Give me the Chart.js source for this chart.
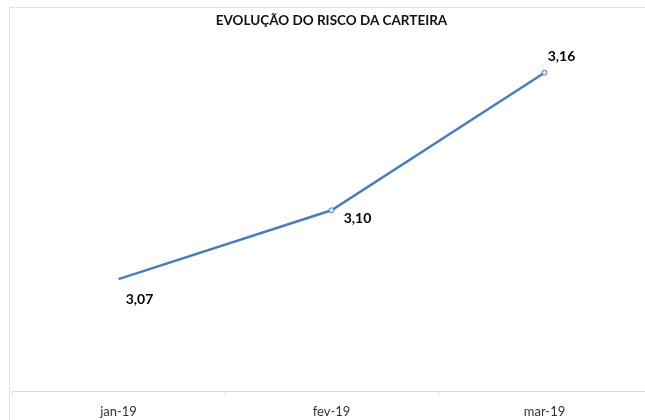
<!DOCTYPE html>
<html>
<head>
<meta charset="utf-8">
<script src="https://cdn.jsdelivr.net/npm/chart.js@4"></script>
<style>
    html, body { margin: 0; padding: 0; background: #fff; overflow: hidden; }
    #frame {
        position: absolute; left: 9px; top: 7px;
        width: 700px; height: 500px;
        border: 1px solid #e3e3e3;
    }
    #wrap { position: absolute; left: 0; top: 0; width: 665px; height: 428px; }
</style>
</head>
<body>
<div id="frame"></div>
<div id="wrap"><canvas id="riskChart"></canvas></div>
<script>
// =========================
// DATA
// =========================
const months = ["jan-19", "fev-19", "mar-19"];
const riskValues = [3.07, 3.10, 3.16];
const chartTitle = "EVOLUÇÃO DO RISCO DA CARTEIRA";

const FONT = "Lato, 'Open Sans', sans-serif";

// =========================
// DATA LABELS (drawn next to each point)
// =========================
const labelOffsets = [[21, 20], [26, 8], [17, -16]];

const pointLabels = {
    id: "pointLabels",
    afterDatasetsDraw(chart) {
        const ctx = chart.ctx;
        const meta = chart.getDatasetMeta(0);
        ctx.save();
        ctx.font = "bold 14px " + FONT;
        ctx.fillStyle = "#000";
        ctx.textAlign = "center";
        ctx.textBaseline = "middle";
        meta.data.forEach((pt, i) => {
            const txt = riskValues[i].toFixed(2).replace(".", ",");
            ctx.fillText(txt, pt.x + labelOffsets[i][0], pt.y + labelOffsets[i][1]);
        });
        ctx.restore();
    }
};

// =========================
// LINE CHART
// =========================
new Chart(document.getElementById("riskChart"), {
    type: "line",
    data: {
        labels: months,
        datasets: [{
            data: riskValues,
            borderColor: "#4a7ebb",
            borderWidth: 2.5,
            pointRadius: [0, 2.5, 2.5],
            pointBorderWidth: 1,
            pointBackgroundColor: "#dfe8f4",
            pointBorderColor: "#4a7ebb",
            tension: 0
        }]
    },
    options: {
        responsive: true,
        maintainAspectRatio: false,
        animation: false,
        layout: { padding: { left: 12, right: 14, top: 0, bottom: 0 } },
        plugins: {
            legend: { display: false },
            tooltip: { enabled: false },
            title: {
                display: true,
                text: chartTitle,
                color: "#111",
                font: { family: FONT, size: 13.5, weight: "bold" },
                padding: { top: 13, bottom: 0 }
            }
        },
        scales: {
            x: {
                offset: true,
                grid: {
                    offset: true,
                    drawOnChartArea: false,
                    drawTicks: true,
                    tickLength: 5,
                    color: "#e3e3e3"
                },
                border: { color: "#d9d9d9", width: 1 },
                ticks: {
                    color: "#333",
                    padding: 8,
                    font: { family: FONT, size: 13 }
                }
            },
            y: {
                display: false,
                min: 3.021,
                max: 3.179
            }
        }
    },
    plugins: [pointLabels]
});
</script>
</body>
</html>
